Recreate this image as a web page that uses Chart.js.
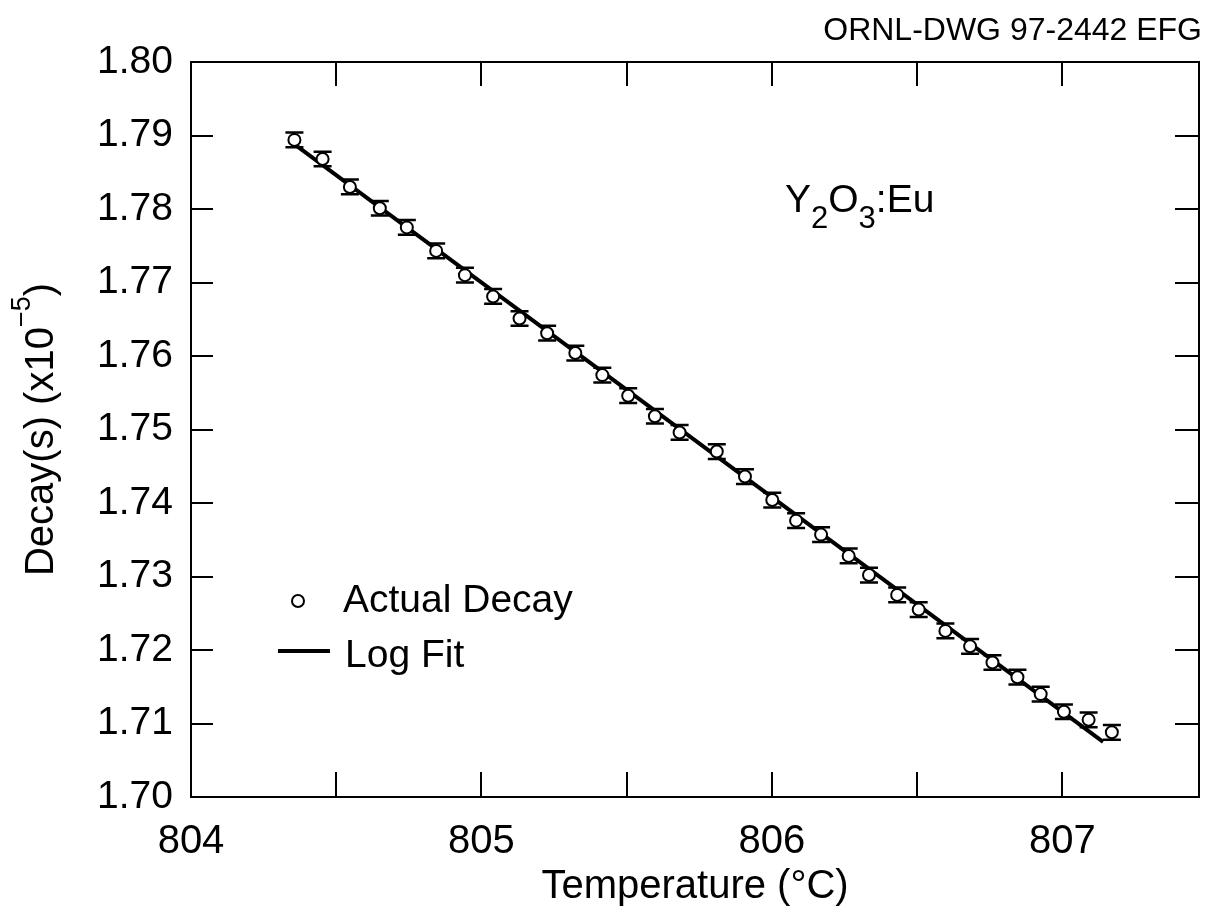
<!DOCTYPE html>
<html>
<head>
<meta charset="utf-8">
<title>Y2O3:Eu decay vs temperature</title>
<script src="https://cdn.jsdelivr.net/npm/chart.js@4.4.1/dist/chart.umd.min.js"></script>
<style>
  html, body { margin: 0; padding: 0; background: #fff; }
  #wrap { width: 1207px; height: 907px; }
</style>
</head>
<body>
<div id="wrap"><canvas id="decayChart" width="1207" height="907"></canvas></div>
<script>
// Measured decay (x1e-5 s) vs temperature (deg C)
const temperature = [
  804.356, 804.453, 804.547, 804.650, 804.743, 804.844, 804.943, 805.040,
  805.131, 805.226, 805.323, 805.416, 805.505, 805.597, 805.682, 805.810,
  805.907, 806.001, 806.083, 806.169, 806.264, 806.334, 806.431, 806.505,
  806.597, 806.682, 806.759, 806.845, 806.925, 807.005, 807.090, 807.170
];
const decay = [
  1.7894, 1.7868, 1.7830, 1.7801, 1.7775, 1.7743, 1.7710, 1.7681,
  1.7651, 1.7631, 1.7604, 1.7574, 1.7546, 1.7518, 1.7496, 1.7470,
  1.7436, 1.7404, 1.7376, 1.7357, 1.7328, 1.7302, 1.7275, 1.7255,
  1.7226, 1.7205, 1.7183, 1.7163, 1.7140, 1.7116, 1.7105, 1.7088
];
const decayErr = [
  0.001, 0.001, 0.001, 0.001, 0.001, 0.001, 0.001, 0.001,
  0.001, 0.001, 0.001, 0.001, 0.001, 0.001, 0.001, 0.001,
  0.001, 0.001, 0.001, 0.001, 0.001, 0.001, 0.001, 0.001,
  0.001, 0.001, 0.001, 0.001, 0.001, 0.001, 0.001, 0.001
];

// Log fit, end points
const fitTemp = [804.36, 807.14];
const fitDecay = [1.7887, 1.7075];

// Axis ticks
const xTicks = [804, 804.5, 805, 805.5, 806, 806.5, 807];
const yTicks = [1.70, 1.71, 1.72, 1.73, 1.74, 1.75, 1.76, 1.77, 1.78, 1.79, 1.80];

const FONT = '"Liberation Sans", Arial, Helvetica, sans-serif';

const points = temperature.map((t, i) => ({ x: t, y: decay[i] }));
const fitPoints = fitTemp.map((t, i) => ({ x: t, y: fitDecay[i] }));

// Error bars go under the markers
const errorBars = {
  id: 'errorBars',
  beforeDatasetsDraw(chart) {
    const { ctx, scales: { x, y } } = chart;
    ctx.save();
    ctx.strokeStyle = '#000';
    ctx.lineWidth = 2.5;
    temperature.forEach((t, i) => {
      const px = x.getPixelForValue(t);
      const top = y.getPixelForValue(decay[i] + decayErr[i]);
      const bot = y.getPixelForValue(decay[i] - decayErr[i]);
      ctx.beginPath();
      ctx.moveTo(px, top); ctx.lineTo(px, bot);
      ctx.moveTo(px - 9, top); ctx.lineTo(px + 9, top);
      ctx.moveTo(px - 9, bot); ctx.lineTo(px + 9, bot);
      ctx.stroke();
    });
    ctx.restore();
  }
};

// Box frame with inward ticks on all four sides
const frame = {
  id: 'frame',
  afterDraw(chart) {
    const { ctx, chartArea: a, scales: { x, y } } = chart;
    ctx.save();
    ctx.strokeStyle = '#000';
    ctx.lineWidth = 2;
    ctx.strokeRect(a.left, a.top, a.right - a.left, a.bottom - a.top);
    ctx.beginPath();
    xTicks.forEach(v => {
      const px = Math.round(x.getPixelForValue(v));
      ctx.moveTo(px, a.bottom); ctx.lineTo(px, a.bottom - 25);
      ctx.moveTo(px, a.top); ctx.lineTo(px, a.top + 24);
    });
    yTicks.forEach(v => {
      const py = Math.round(y.getPixelForValue(v));
      ctx.moveTo(a.left, py); ctx.lineTo(a.left + 22, py);
      ctx.moveTo(a.right, py); ctx.lineTo(a.right - 24, py);
    });
    ctx.stroke();
    ctx.restore();
  }
};

// Titles, legend and notes
const labels = {
  id: 'labels',
  afterDraw(chart) {
    const { ctx, chartArea: a } = chart;
    ctx.save();
    ctx.fillStyle = '#000';
    ctx.textBaseline = 'alphabetic';

    // drawing number, top right
    ctx.font = '32px ' + FONT;
    ctx.textAlign = 'right';
    ctx.fillText('ORNL-DWG 97-2442 EFG', 1202, 40);

    // x title
    ctx.font = '40px ' + FONT;
    ctx.textAlign = 'center';
    ctx.fillText('Temperature (\u00B0C)', (a.left + a.right) / 2, 898);

    // y title with superscript exponent
    const main = '40px ' + FONT, sup = '27px ' + FONT;
    const parts = [
      { t: 'Decay(s) (x10', f: main, dy: 0 },
      { t: '\u22125', f: sup, dy: -23 },
      { t: ')', f: main, dy: 0 }
    ];
    let total = 0;
    parts.forEach(p => { ctx.font = p.f; p.w = ctx.measureText(p.t).width; total += p.w; });
    ctx.translate(53, (a.top + a.bottom) / 2);
    ctx.rotate(-Math.PI / 2);
    ctx.textAlign = 'left';
    let cx = -total / 2;
    parts.forEach(p => { ctx.font = p.f; ctx.fillText(p.t, cx, p.dy); cx += p.w; });
    ctx.setTransform(1, 0, 0, 1, 0, 0);

    // compound label with subscripts
    const body = '39px ' + FONT, sub = '31px ' + FONT;
    const comp = [
      { t: 'Y', f: body, dy: 0 },
      { t: '2', f: sub, dy: 16 },
      { t: 'O', f: body, dy: 0 },
      { t: '3', f: sub, dy: 16 },
      { t: ':Eu', f: body, dy: 0 }
    ];
    cx = 785;
    comp.forEach(p => { ctx.font = p.f; ctx.fillText(p.t, cx, 212 + p.dy); cx += ctx.measureText(p.t).width; });

    // legend
    ctx.strokeStyle = '#000';
    ctx.lineWidth = 2;
    ctx.beginPath();
    ctx.arc(298, 601, 6, 0, Math.PI * 2);
    ctx.stroke();
    ctx.lineWidth = 4;
    ctx.beginPath();
    ctx.moveTo(278, 651); ctx.lineTo(330, 651);
    ctx.stroke();
    ctx.font = body;
    ctx.fillText('Actual Decay', 343, 612);
    ctx.fillText('Log Fit', 345, 667);
    ctx.restore();
  }
};

const ctx = document.getElementById('decayChart').getContext('2d');
const decayChart = new Chart(ctx, {
  type: 'scatter',
  data: {
    datasets: [{
      label: 'Actual Decay',
      data: points,
      pointRadius: 6,
      pointBorderWidth: 2,
      pointBackgroundColor: '#fff',
      pointBorderColor: '#000',
      showLine: false
    }, {
      label: 'Log Fit',
      type: 'line',
      data: fitPoints,
      borderColor: '#000',
      borderWidth: 4,
      pointRadius: 0,
      fill: false,
      tension: 0
    }]
  },
  options: {
    responsive: false,
    animation: false,
    devicePixelRatio: 1,
    layout: { padding: { top: 62, right: 2, left: 0, bottom: 0 } },
    plugins: { legend: { display: false }, tooltip: { enabled: false } },
    scales: {
      x: {
        type: 'linear',
        min: 804,
        max: 807.47,
        afterBuildTicks: s => { s.ticks = xTicks.map(v => ({ value: v })); },
        afterFit: s => { s.height = 110; },
        grid: { display: false, drawTicks: false },
        border: { display: false },
        ticks: {
          padding: 21,
          color: '#000',
          font: { family: FONT, size: 40 },
          maxRotation: 0,
          autoSkip: false,
          callback: v => Number.isInteger(v) ? String(v) : ''
        }
      },
      y: {
        type: 'linear',
        min: 1.70,
        max: 1.80,
        afterBuildTicks: s => { s.ticks = yTicks.map(v => ({ value: v })); },
        afterFit: s => { s.width = 191; },
        grid: { display: false, drawTicks: false },
        border: { display: false },
        ticks: {
          padding: 18,
          color: '#000',
          font: { family: FONT, size: 39 },
          autoSkip: false,
          callback: v => v.toFixed(2)
        }
      }
    }
  },
  plugins: [errorBars, frame, labels]
});
</script>
</body>
</html>
